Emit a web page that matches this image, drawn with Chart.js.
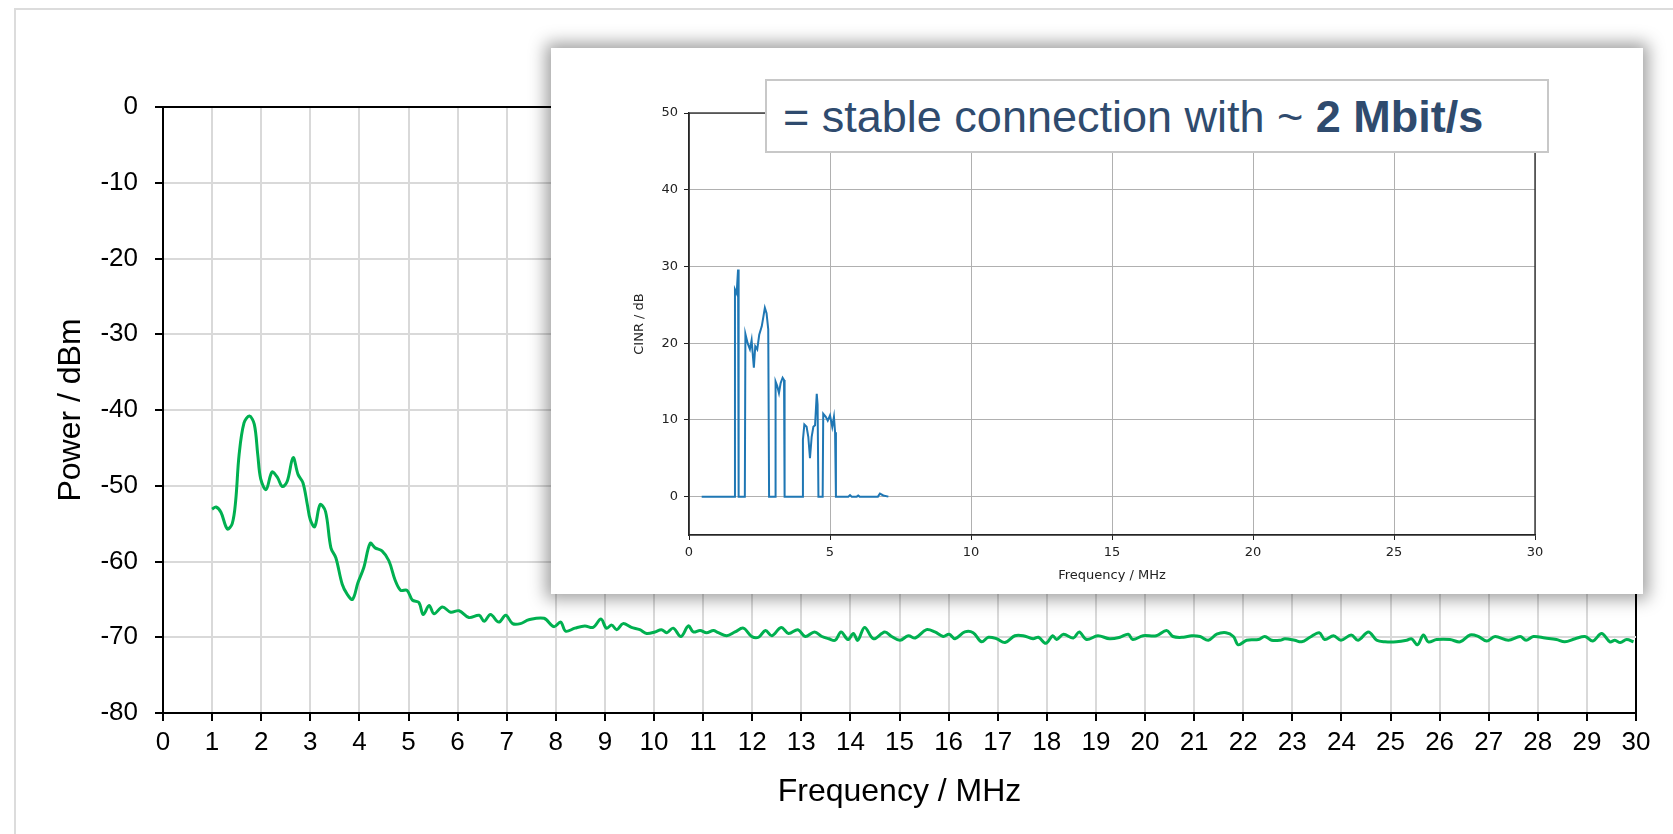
<!DOCTYPE html>
<html>
<head>
<meta charset="utf-8">
<script src="https://cdn.jsdelivr.net/npm/chart.js@4.4.1/dist/chart.umd.min.js"></script>
<style>
    body { margin: 0; width: 1673px; height: 834px; overflow: hidden; background: #fff; position: relative; }
    #frame { position: absolute; left: 14px; top: 8px; width: 1700px; height: 900px; border: 2px solid #dcdcdc; }
    #mainWrap { position: absolute; left: 0; top: 0; }
    #panel { position: absolute; left: 551px; top: 48px; width: 1092px; height: 546px; background: #fff;
             box-shadow: 0 0 16px 5px rgba(0, 0, 0, 0.38); }
    #note { position: absolute; left: 765px; top: 79px; width: 784px; height: 74px; box-sizing: border-box;
            border: 2px solid #c8c8c8; background: #fff; padding-left: 16px;
            font: 45px "Liberation Sans", Arial, sans-serif; line-height: 72px; color: #2f4b6e; white-space: nowrap; }
</style>
</head>
<body>
<div id="frame"></div>
<div id="mainWrap"><canvas id="mainChart" width="1673" height="834"></canvas></div>
<div id="panel"><canvas id="insetChart" width="1092" height="546"></canvas></div>
<div id="note">= stable connection with ~ <b>2 Mbit/s</b></div>

<script>
// spectrum (green)
const freqMHz = [
    1.0, 1.08, 1.18, 1.31, 1.41, 1.48, 1.55, 1.65, 1.76, 1.86, 1.93, 1.99, 2.10, 2.22, 2.33, 2.43, 2.53, 2.65, 2.75, 2.85,
    2.94, 3.0, 3.09, 3.2, 3.31, 3.42, 3.52, 3.65, 3.75, 3.86, 3.97, 4.09, 4.22, 4.32, 4.46, 4.6, 4.73, 4.84, 4.97, 5.08,
    5.21, 5.3, 5.42, 5.52, 5.69, 5.86, 6.03, 6.23, 6.44, 6.54, 6.67, 6.84, 6.98, 7.12, 7.28, 7.45, 7.76, 7.96, 8.1, 8.2,
    8.39, 8.59, 8.76, 8.92, 9.03, 9.14, 9.24, 9.37, 9.54, 9.71, 9.85, 10.02, 10.15, 10.26, 10.39, 10.55, 10.7, 10.8, 10.94, 11.07,
    11.21, 11.31, 11.48, 11.65, 11.82, 11.99, 12.13, 12.27, 12.4, 12.59, 12.74, 12.93, 13.08, 13.27, 13.42, 13.56, 13.69, 13.81, 13.95, 14.06,
    14.15, 14.29, 14.47, 14.7, 14.84, 15.01, 15.18, 15.32, 15.55, 15.72, 15.89, 16.01, 16.13, 16.33, 16.5, 16.67, 16.81, 16.98, 17.15, 17.35,
    17.52, 17.72, 17.83, 17.98, 18.12, 18.2, 18.34, 18.54, 18.66, 18.81, 19.04, 19.28, 19.49, 19.66, 19.75, 19.96, 20.23, 20.44, 20.57, 20.78,
    20.95, 21.12, 21.29, 21.46, 21.65, 21.8, 21.9, 22.07, 22.31, 22.44, 22.58, 22.75, 22.85, 23.05, 23.19, 23.36, 23.55, 23.66, 23.84, 23.99,
    24.2, 24.34, 24.55, 24.72, 24.89, 25.12, 25.33, 25.43, 25.55, 25.67, 25.77, 25.94, 26.21, 26.42, 26.62, 26.79, 26.96, 27.13, 27.4, 27.64,
    27.76, 27.91, 28.15, 28.38, 28.55, 28.76, 28.96, 29.12, 29.3, 29.47, 29.57, 29.68, 29.81, 29.95
];
const powerDbm = [
    -53.1, -52.8, -53.5, -55.7, -55.0, -52.0, -45.9, -41.7, -40.8, -41.9, -45.9, -49.1, -50.5, -48.2, -48.9, -50.1, -49.4, -46.3, -48.5, -49.6,
    -52.5, -54.5, -55.4, -52.5, -53.4, -58.2, -59.5, -63.0, -64.3, -65.0, -62.8, -60.8, -57.6, -58.2, -58.6, -59.9, -62.5, -63.8, -63.8, -65.1,
    -65.4, -67.0, -65.8, -66.9, -66.0, -66.7, -66.5, -67.4, -67.1, -67.9, -67.0, -68.0, -67.1, -68.2, -68.2, -67.7, -67.5, -68.6, -68.0, -69.2,
    -68.8, -68.5, -68.7, -67.6, -68.8, -68.4, -69.0, -68.2, -68.7, -69.0, -69.5, -69.3, -69.0, -69.4, -68.8, -69.9, -68.5, -69.3, -69.1, -69.4,
    -69.1, -69.4, -69.8, -69.3, -68.8, -69.9, -70.0, -69.1, -69.8, -68.7, -69.5, -69.0, -69.9, -69.3, -69.9, -70.2, -70.4, -69.3, -70.3, -69.5,
    -70.4, -68.7, -70.2, -69.3, -69.9, -70.4, -69.8, -70.1, -69.0, -69.3, -69.9, -69.6, -70.2, -69.3, -69.4, -70.6, -70.0, -70.2, -70.7, -69.8,
    -69.8, -70.2, -70.0, -70.8, -69.8, -70.3, -69.6, -70.1, -69.3, -70.3, -69.8, -70.2, -70.0, -69.6, -70.3, -69.8, -69.8, -69.1, -69.9, -70.0,
    -69.8, -69.9, -70.4, -69.6, -69.4, -69.9, -71.0, -70.4, -70.3, -69.9, -70.4, -70.4, -70.2, -70.4, -70.6, -70.0, -69.4, -70.3, -69.8, -70.4,
    -69.7, -70.4, -69.3, -70.4, -70.6, -70.6, -70.4, -70.2, -71.0, -69.7, -70.6, -70.3, -70.3, -70.6, -69.7, -69.9, -70.5, -69.9, -70.4, -69.9,
    -70.4, -69.9, -70.1, -70.3, -70.6, -70.2, -69.9, -70.5, -69.5, -70.6, -70.4, -70.7, -70.3, -70.6
];

// inset CINR trace (blue)
const cinrFreqMHz = [
    0.45, 1.63, 1.63, 1.69, 1.74, 1.76, 1.98, 2.0, 2.08, 2.16, 2.22, 2.3, 2.35, 2.42, 2.49, 2.58, 2.64, 2.69, 2.75, 2.81,
    2.84, 3.05, 3.07, 3.13, 3.19, 3.25, 3.32, 3.37, 3.39, 4.03, 4.04, 4.09, 4.17, 4.23, 4.29, 4.35, 4.41, 4.47, 4.53, 4.56,
    4.59, 4.74, 4.76, 4.85, 4.92, 5.0, 5.08, 5.14, 5.18, 5.21, 5.65, 5.71, 5.77, 5.95, 6.0, 6.05, 6.7, 6.77, 6.89, 7.07
];
const cinrDb = [
    0, 0, 27.0, 26.5, 29.6, 0, 0, 21.2, 20.0, 19.2, 20.4, 16.8, 19.6, 19.2, 21.1, 22.2, 23.5, 24.6, 23.9, 21.8,
    0, 0, 15.0, 14.4, 13.5, 14.8, 15.5, 15.2, 0, 0, 7.4, 9.4, 9.1, 7.8, 5.0, 7.8, 9.1, 9.3, 13.4, 12.0,
    0, 0, 10.8, 10.4, 9.9, 10.6, 9.1, 10.4, 8.4, 0, 0, 0.2, 0, 0, 0.15, 0, 0, 0.4, 0.15, 0
];

const insetYTicks = [0, 10, 20, 30, 40, 50];

document.addEventListener("DOMContentLoaded", () => {
    const arial = "'Liberation Sans', Arial, sans-serif";
    const dejavu = "'DejaVu Sans', sans-serif";

    // main spectrum chart
    new Chart(document.getElementById("mainChart").getContext("2d"), {
        type: "line",
        data: {
            datasets: [{
                data: freqMHz.map((f, i) => ({ x: f, y: powerDbm[i] })),
                borderColor: "#00b050",
                borderWidth: 3,
                pointRadius: 0,
                tension: 0.35,
                fill: false,
            }],
        },
        options: {
            responsive: false,
            animation: false,
            layout: { padding: { left: 0, top: 107, right: 37, bottom: 0 } },
            plugins: { legend: { display: false }, tooltip: { enabled: false } },
            scales: {
                x: {
                    type: "linear",
                    min: 0,
                    max: 30,
                    afterFit: s => { s.height = 121; },
                    ticks: { stepSize: 1, color: "#000", padding: 6, font: { family: arial, size: 26 }, maxRotation: 0, autoSkip: false },
                    grid: {
                        color: c => (c.tick && c.tick.value === 30 ? "#000" : "#d9d9d9"),
                        lineWidth: 2,
                        tickColor: "#000",
                        tickLength: 8,
                        tickWidth: 2,
                    },
                    border: { color: "#000", width: 2 },
                    title: { display: true, text: "Frequency / MHz", color: "#000", font: { family: arial, size: 32 }, padding: { top: 0, bottom: 23 } },
                },
                y: {
                    min: -80,
                    max: 0,
                    afterFit: s => { s.width = 163; },
                    ticks: { stepSize: 10, color: "#000", padding: 17, font: { family: arial, size: 26 } },
                    grid: {
                        color: c => (c.tick && c.tick.value === 0 ? "#000" : "#d9d9d9"),
                        lineWidth: 2,
                        tickColor: "#000",
                        tickLength: 8,
                        tickWidth: 2,
                    },
                    border: { color: "#000", width: 2 },
                    title: { display: true, text: "Power / dBm", color: "#000", font: { family: arial, size: 32 }, padding: { top: 52, bottom: 0 } },
                },
            },
        },
    });

    // matplotlib-like frame around the inset plot area
    const spines = {
        id: "spines",
        afterDraw(chart) {
            const { ctx, chartArea: a } = chart;
            ctx.save();
            ctx.strokeStyle = "#262626";
            ctx.lineWidth = 1.3;
            ctx.strokeRect(a.left, a.top, a.right - a.left, a.bottom - a.top);
            ctx.restore();
        },
    };

    // inset CINR chart
    new Chart(document.getElementById("insetChart").getContext("2d"), {
        type: "line",
        data: {
            datasets: [{
                data: cinrFreqMHz.map((f, i) => ({ x: f, y: cinrDb[i] })),
                borderColor: "#1f77b4",
                borderWidth: 2,
                pointRadius: 0,
                tension: 0,
                fill: false,
            }],
        },
        options: {
            responsive: false,
            animation: false,
            layout: { padding: { left: 0, top: 65, right: 108, bottom: 0 } },
            plugins: { legend: { display: false }, tooltip: { enabled: false } },
            scales: {
                x: {
                    type: "linear",
                    min: 0,
                    max: 30,
                    afterFit: s => { s.height = 59; },
                    ticks: { stepSize: 5, color: "#222", padding: 5, font: { family: dejavu, size: 13 }, maxRotation: 0 },
                    grid: { color: "#b0b0b0", lineWidth: 1, tickColor: "#222", tickLength: 5, tickWidth: 1 },
                    border: { color: "#262626", width: 1.3 },
                    title: { display: true, text: "Frequency / MHz", color: "#222", font: { family: dejavu, size: 13 }, padding: { top: 0, bottom: 11 } },
                },
                y: {
                    min: -5,
                    max: 50,
                    afterFit: s => { s.width = 138; },
                    afterBuildTicks: s => { s.ticks = insetYTicks.map(v => ({ value: v })); },
                    ticks: { color: "#222", padding: 6, font: { family: dejavu, size: 13 } },
                    grid: { color: "#b0b0b0", lineWidth: 1, tickColor: "#222", tickLength: 5, tickWidth: 1 },
                    border: { color: "#262626", width: 1.3 },
                    title: { display: true, text: "CINR / dB", color: "#222", font: { family: dejavu, size: 13 }, padding: { top: 81, bottom: 0 } },
                },
            },
        },
        plugins: [spines],
    });
});
</script>
</body>
</html>
